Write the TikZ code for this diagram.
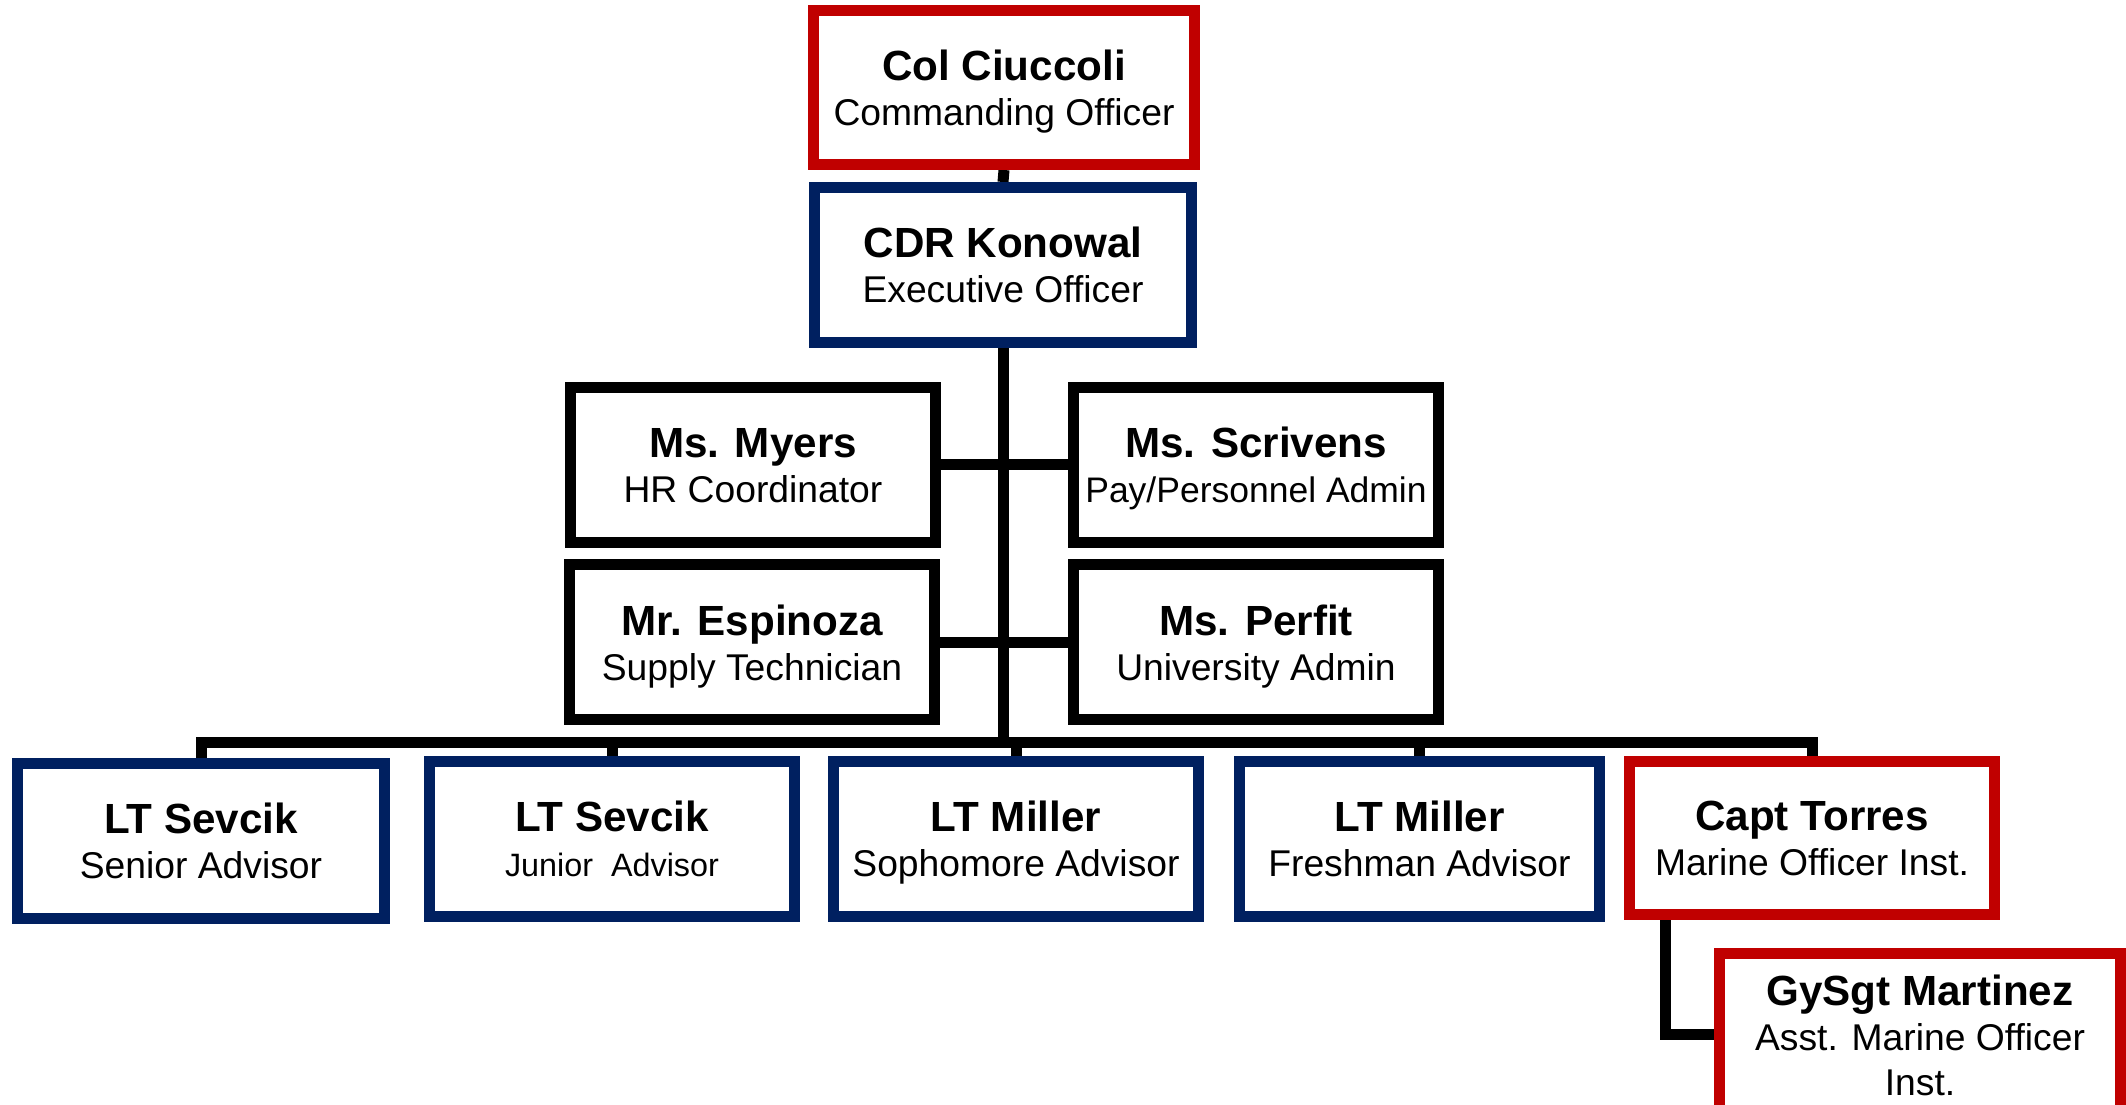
\documentclass[tikz,border=0pt]{standalone}
\usepackage{fontspec}
\setmainfont{Liberation Sans}
\usepackage{xcolor}
\usepackage{tikz}
\usetikzlibrary{backgrounds}
\definecolor{marinered}{RGB}{192,0,0}
\definecolor{navyblue}{RGB}{0,32,96}
\newcommand{\org}[2]{\rule{0pt}{11pt}{\bfseries\fontsize{12}{12.8}\selectfont #1}\\#2\rule[-2.3pt]{0pt}{2.3pt}}

\begin{document}
\begin{tikzpicture}[
	unit/.style={draw, fill=white, line width=1.1mm, minimum width=3.65cm, minimum height=1.55cm, align=center, inner sep=0pt, font=\fontsize{10.6}{12.8}\selectfont},
	marinebox/.style={unit, draw=marinered},
	navybox/.style={unit, draw=navyblue},
	staffbox/.style={unit, draw=black},
	link/.style={draw=black, line width=1.1mm}]
	\clip (0,0) rectangle (21.26,11.05);
	\node[marinebox, minimum width=3.81cm, minimum height=1.54cm] (co) at (10.04,10.175) {\org{Col Ciuccoli}{Commanding Officer}};
	\node[navybox, minimum width=3.77cm] (xo) at (10.03,8.40) {\org{CDR Konowal}{Executive Officer}};
	\node[staffbox] (myers) at (7.53,6.40) {\org{Ms. Myers}{HR Coordinator}};
	\node[staffbox] (scrivens) at (12.56,6.40) {\org{Ms. Scrivens}{\fontsize{10.1}{12.8}\selectfont Pay/Personnel Admin}};
	\node[staffbox] (espinoza) at (7.52,4.625) {\org{Mr. Espinoza}{Supply Technician}};
	\node[staffbox] (perfit) at (12.56,4.625) {\org{Ms. Perfit}{University Admin}};
	\node[navybox, minimum width=3.675cm] (senior) at (2.01,2.64) {\org{LT Sevcik}{Senior Advisor}};
	\node[navybox] (junior) at (6.12,2.66) {\org{LT Sevcik}{\fontsize{9.2}{12.8}\selectfont Junior\ \ Advisor}};
	\node[navybox] (sophomore) at (10.16,2.66) {\org{LT Miller}{Sophomore Advisor}};
	\node[navybox, minimum width=3.60cm] (freshman) at (14.195,2.66) {\org{LT Miller}{Freshman Advisor}};
	\node[marinebox, minimum height=1.53cm] (torres) at (18.12,2.67) {\org{Capt Torres}{Marine Officer Inst.}};
	\node[marinebox, minimum width=4.01cm, minimum height=1.63cm] (martinez) at (19.20,0.70) {\org{GySgt Martinez}{Asst. Marine Officer\\Inst.}};
	\coordinate (bus) at (10.03,3.62);
	\begin{scope}[on background layer]
		\draw[link] (co.south) -- (xo.north);
		\draw[link] (xo.south) -- (bus);
		\draw[link] (myers.east) -- (scrivens.west);
		\draw[link] (espinoza.east) -- (perfit.west);
		\draw[link] (senior.north) |- (bus) -| (torres.north);
		\draw[link] (junior.north) -- (junior.north |- bus);
		\draw[link] (sophomore.north) -- (sophomore.north |- bus);
		\draw[link] (freshman.north) -- (freshman.north |- bus);
		\draw[link] ([xshift=-1.47cm]torres.south) |- (martinez.west);
	\end{scope}
\end{tikzpicture}
\end{document}
